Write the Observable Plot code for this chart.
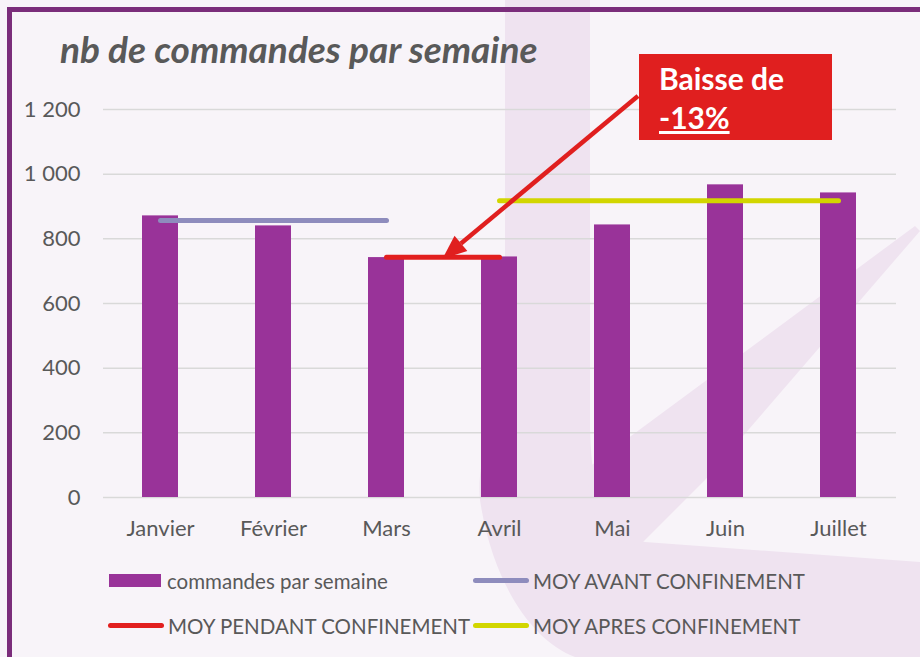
<!DOCTYPE html>
<html><head><meta charset="utf-8">
<script src="https://cdn.jsdelivr.net/npm/d3@7"></script>
<script src="https://cdn.jsdelivr.net/npm/@observablehq/plot@0.6"></script>
<style>
html,body{margin:0;padding:0;background:#f8f4f9;}
#wrap{position:relative;width:920px;height:657px;overflow:hidden;background:#f8f4f9;font-family:Lato,sans-serif;color:#595959;}
#deco{position:absolute;left:0;top:0;}
#title{position:absolute;left:60px;top:27px;font-style:italic;font-weight:bold;font-size:37px;line-height:1.2;color:#595959;white-space:nowrap;}
#chart{position:absolute;left:0;top:80px;}
#legend{position:absolute;left:108px;top:558px;display:grid;grid-template-columns:365px auto;grid-auto-rows:45px;font-size:20.5px;color:#595959;}
.item{display:flex;align-items:center;white-space:nowrap;}
.sw{display:inline-block;flex-shrink:0;}
#box{position:absolute;background:#e01f1f;color:#fff;font-weight:bold;font-size:30px;line-height:39px;box-sizing:border-box;padding:5px 0 0 20px;}
#box span{display:block;}
</style></head>
<body>
<div id="wrap">
  <svg id="deco" width="920" height="657">
    <path d="M505,0 L590,0 L590,430 C592,500 605,535 645,542 L920,562 L920,657 L575,657 C530,640 492,580 480,500 C476,460 495,420 505,380 Z" fill="#efe3f0"/>
    <path d="M585,470 L915,226 L920,231 L705,480 L640,545 L600,540 Z" fill="#efe3f0"/>
    <rect x="7" y="7" width="913" height="5" fill="#7b2d7b"/>
    <rect x="7" y="7" width="5" height="650" fill="#7b2d7b"/>
  </svg>
  <div id="title">nb de commandes par semaine</div>
  <div id="chart"></div>
  <div id="legend"></div>
  <div id="box"></div>
</div>
<script>
// ---- data ----
const months = ["Janvier","Février","Mars","Avril","Mai","Juin","Juillet"];
const commandes = [871, 840, 742, 744, 843, 967, 942];
const barLabel = "commandes par semaine";
const barColor = "#993399";
const moyLabels = ["MOY AVANT CONFINEMENT","MOY PENDANT CONFINEMENT","MOY APRES CONFINEMENT"];
const moyValues = [857, 743, 918];
const moyStart = ["Janvier","Mars","Avril"];
const moyEnd = ["Mars","Avril","Juillet"];
const moyColors = ["#8e8cbd","#e21f1f","#d2d600"];
const yTicks = [0, 200, 400, 600, 800, 1000, 1200];
const annotationLines = ["Baisse de", "-13%"];
const annotationColor = "#e01f1f";

// ---- layout constants ----
const svgTop = 80;
const box = {left: 639, top: 54, width: 193, height: 86};

const frFormat = d3.formatLocale({decimal: ",", thousands: " ", grouping: [3], currency: ["", " €"]}).format(",");

const bars = months.map((m, i) => ({month: m, value: commandes[i]}));
const segs = moyLabels.map((s, i) => [
  {series: s, month: moyStart[i], value: moyValues[i]},
  {series: s, month: moyEnd[i], value: moyValues[i]}
]);

function arrowMark(index, scales, values, dimensions) {
  const x = scales.x, y = scales.y;
  const bw = x.bandwidth ? x.bandwidth() : 0;
  const tipX = (x("Mars") + x("Avril")) / 2 + bw / 2;
  const tipY = y(moyValues[1]) + 2;
  const sx = box.left - 1, sy = box.top + 42 - svgTop;
  const ang = Math.atan2(tipY - sy, tipX - sx);
  const hl = 24, hw = 10;
  const bx = tipX - hl * Math.cos(ang), by = tipY - hl * Math.sin(ang);
  const px = -Math.sin(ang), py = Math.cos(ang);
  const g = d3.create("svg:g");
  g.append("line").attr("x1", sx).attr("y1", sy).attr("x2", bx).attr("y2", by)
    .attr("stroke", annotationColor).attr("stroke-width", 4.5);
  g.append("polygon").attr("points", [[tipX, tipY], [bx + px * hw, by + py * hw], [bx - px * hw, by - py * hw]].map(p => p.join(",")).join(" "))
    .attr("fill", annotationColor);
  return g.node();
}

const chart = Plot.plot({
  width: 920,
  height: 470,
  marginLeft: 103,
  marginRight: 24,
  marginTop: 29,
  marginBottom: 53,
  style: {background: "transparent", fontFamily: "Lato, sans-serif", fontSize: "22px", color: "#595959", overflow: "visible"},
  x: {domain: months, paddingInner: 0.68, paddingOuter: 0.34, tickSize: 0, tickPadding: 23, label: null},
  y: {domain: [0, 1200], ticks: yTicks, tickFormat: frFormat, tickSize: 0, tickPadding: 23, label: null},
  marks: [
    Plot.ruleY(yTicks, {stroke: "#d9d9d9", strokeWidth: 1.5}),
    Plot.barY(bars, {x: "month", y: "value", fill: barColor}),
    ...segs.map((s, i) => Plot.line(s, {x: "month", y: "value", stroke: moyColors[i], strokeWidth: 5, strokeLinecap: "round"})),
    arrowMark
  ]
});
document.getElementById("chart").appendChild(chart);

// legend
const legend = document.getElementById("legend");
const items = [
  {label: barLabel, color: barColor, type: "bar"},
  {label: moyLabels[0], color: moyColors[0], type: "line"},
  {label: moyLabels[1], color: moyColors[1], type: "line"},
  {label: moyLabels[2], color: moyColors[2], type: "line"}
];
items.forEach((it, i) => {
  const d = document.createElement("div");
  d.className = "item";
  const sw = document.createElement("span");
  sw.className = "sw";
  if (it.type === "bar") {
    sw.style.cssText = `width:52px;height:13px;background:${it.color};margin-left:1px;margin-right:6px;`;
  } else {
    sw.style.cssText = `width:56px;height:5px;border-radius:3px;background:${it.color};margin-right:4px;`;
  }
  d.appendChild(sw);
  d.appendChild(document.createTextNode(it.label));
  legend.appendChild(d);
});

// annotation box
const b = document.getElementById("box");
b.style.left = box.left + "px"; b.style.top = box.top + "px";
b.style.width = box.width + "px"; b.style.height = box.height + "px";
annotationLines.forEach((t, i) => {
  const s = document.createElement("span");
  s.textContent = t;
  if (i === 1) s.style.textDecoration = "underline";
  b.appendChild(s);
});
</script>
</body></html>
